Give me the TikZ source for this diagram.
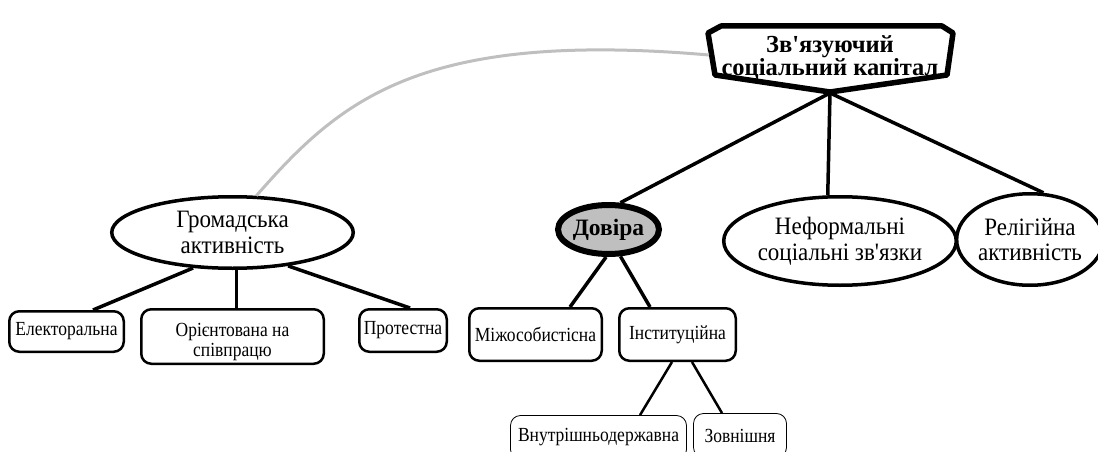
\documentclass[tikz,border=0pt]{standalone}
\usepackage{fontspec}
\newfontfamily\uaserif{Liberation Serif}
\newfontfamily\uaovalfont{Liberation Serif}[FakeStretch=0.92]
\newfontfamily\uaboxfont{Liberation Serif}[FakeStretch=0.875]
\usetikzlibrary{shapes.geometric}

\begin{document}
\begin{tikzpicture}[x=1pt,y=-1pt,
	oval/.style={ellipse,draw,line width=3.5pt,inner sep=0pt,align=center,font=\uaovalfont\fontsize{25}{25.5}\selectfont},
	trustoval/.style={oval,line width=6pt,fill=black!25,font=\uaserif\bfseries\fontsize{23.5}{25}\selectfont},
	boxa/.style={rectangle,rounded corners=10pt,draw,line width=2.5pt,inner sep=0pt,align=center,font=\uaboxfont\fontsize{20}{20}\selectfont},
	boxb/.style={boxa,line width=0.8pt},
	link/.style={line width=3.5pt},
	thinlink/.style={line width=2.5pt},
	greylink/.style={line width=3pt,black!25}]
	\clip (0,0) rectangle (1098,452);

	% top
	\draw[line width=5.5pt,line join=round] (708,33) -- (721,26) -- (942,26) -- (953,33) -- (947,75) -- (830,92) -- (715,75) -- cycle;
	\node[align=center,font=\uaserif\bfseries\fontsize{24.5}{23.5}\selectfont] (core) at (830,57.5) {Зв'язуючий\\соціальний капітал};
	\coordinate (corebot) at (830,93);
	\coordinate (coreleft) at (709,55);

	% second row
	\node[oval,minimum width=241.5,minimum height=71.5] (gromad) at (232.5,232.5) {Громадська\\активність};
	\node[trustoval,minimum width=91,minimum height=49] (dovira) at (608.5,229.5) {Довіра};
	\node[oval,minimum width=216.5,minimum height=88.5] (neform) at (840,241) {Неформальні\\соціальні зв'язки};
	\node[oval,minimum width=140.5,minimum height=91.5] (relig) at (1030,239.5) {Релігійна\\активність};

	% boxes
	\node[boxa,minimum width=114.5,minimum height=40.5] (elect) at (66.5,331.5) {Електоральна};
	\node[boxa,minimum width=182.5,minimum height=54.5] (orient) at (232.5,336.5)
		{\raisebox{0pt}[\height][\dimexpr\depth-11pt\relax]{\begin{tabular}{@{}c@{}}Орієнтована на\\співпрацю\end{tabular}}};
	\node[boxa,minimum width=87.5,minimum height=42.5] (protest) at (403,330.5) {Протестна};
	\node[boxa,minimum width=132.5,minimum height=52.5] (mizh) at (535.5,334.5) {Міжособистісна};
	\node[boxa,minimum width=116.5,minimum height=52.5] (inst) at (677.5,334.5) {Інституційна};
	\node[boxb,minimum width=176,minimum height=44] (vnutr) at (598.5,437.5) {Внутрішньодержавна};
	\node[boxb,minimum width=93,minimum height=44] (zovn) at (740,435.5) {Зовнішня};

	\draw[greylink] (gromad.57) .. controls (340,100) and (420,30) .. (coreleft);

	\draw[link] (corebot) -- (dovira.66);
	\draw[link] (corebot) -- (neform.105);
	\draw[link] (corebot) -- (relig.74);

	\draw[link] (gromad.222) -- ([xshift=26.5]elect.north);
	\draw[link] ([xshift=4]gromad.south) -- ([xshift=4]orient.north);
	\draw[link] (gromad.329) -- ([xshift=7]protest.north);

	\draw[link] (dovira.265) -- ([xshift=34.5]mizh.north);
	\draw[link] (dovira.294) -- ([xshift=-27.5]inst.north);

	\draw[thinlink] ([xshift=-5.5]inst.south) -- ([xshift=41.5]vnutr.north);
	\draw[thinlink] ([xshift=14.5]inst.south) -- ([xshift=-18]zovn.north);
\end{tikzpicture}
\end{document}
